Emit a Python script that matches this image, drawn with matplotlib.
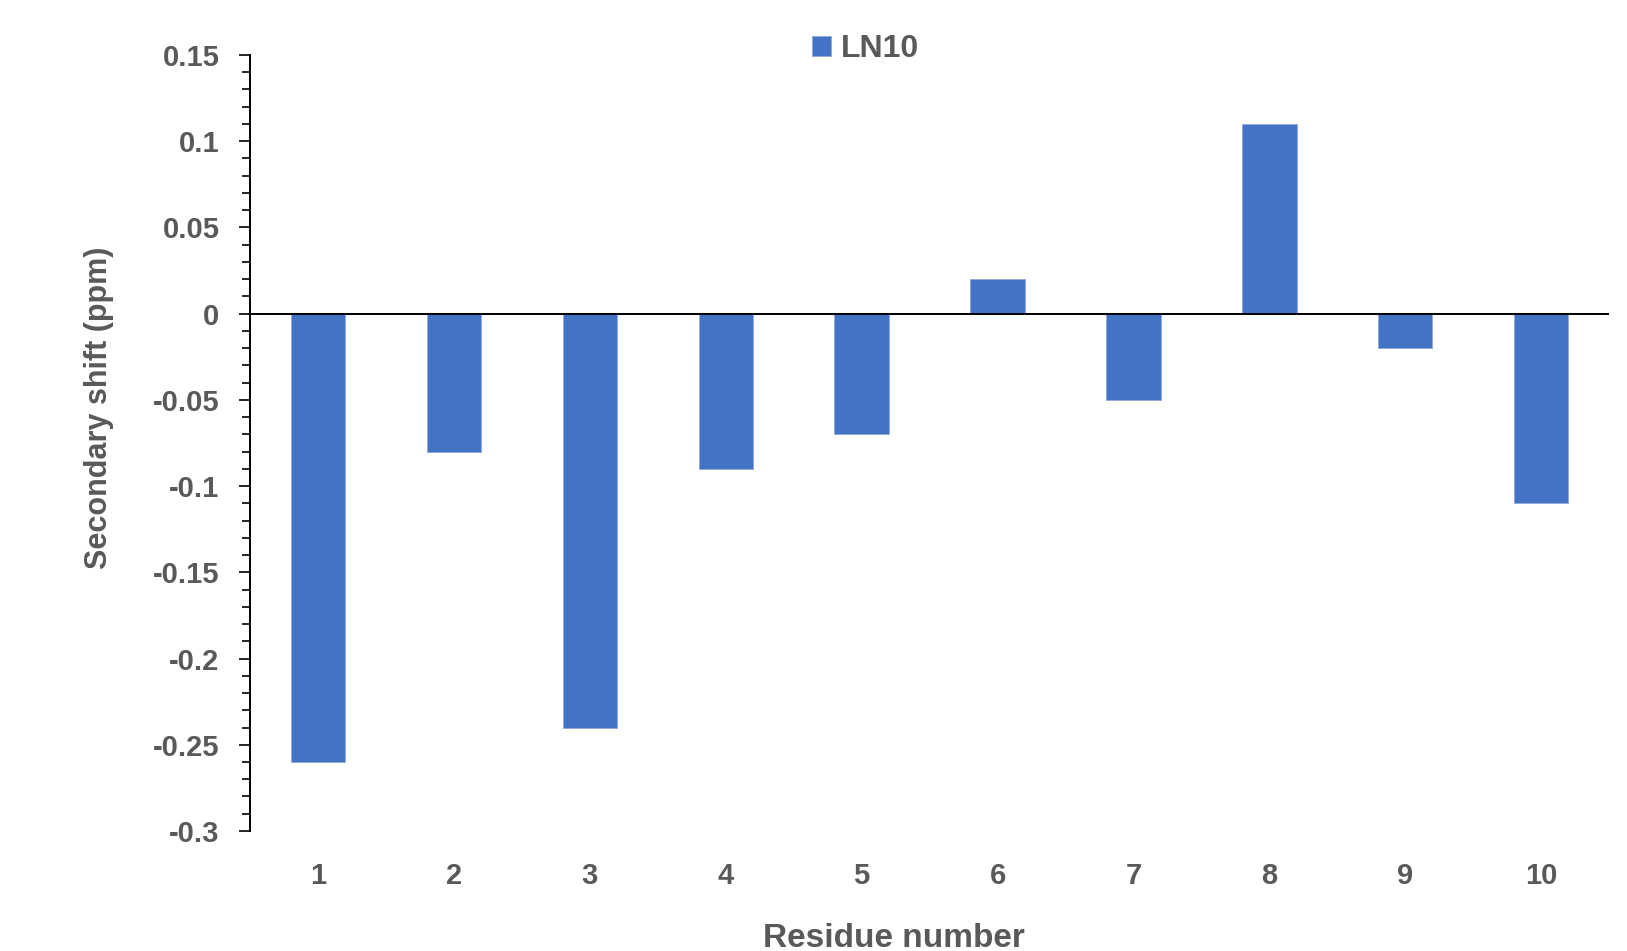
import matplotlib.pyplot as plt
from matplotlib.ticker import MultipleLocator

# secondary shift per residue
residues = [1, 2, 3, 4, 5, 6, 7, 8, 9, 10]
shifts = [-0.26, -0.08, -0.24, -0.09, -0.07, 0.02, -0.05, 0.11, -0.02, -0.11]
series_name = "LN10"

BAR_COLOR = "#4472C4"
TEXT_COLOR = "#595959"

plt.rcParams["font.family"] = ["Liberation Sans", "DejaVu Sans"]
plt.rcParams["font.weight"] = "bold"

fig = plt.figure(figsize=(16.27, 9.51), dpi=100)
ax = fig.add_axes([0.1537, 0.1262, 0.989 - 0.1537, 0.9422 - 0.1262])

ax.bar(residues, shifts, width=0.4, color=BAR_COLOR, label=series_name,
       edgecolor="#8FAADC", linewidth=0.6, zorder=2)
ax.axhline(0, color="black", linewidth=1.4, zorder=3)

ax.set_xlim(0.5, 10.5)
ax.set_ylim(-0.3, 0.15)

ax.yaxis.set_major_locator(MultipleLocator(0.05))
ax.yaxis.set_minor_locator(MultipleLocator(0.01))
ax.set_yticks([-0.3, -0.25, -0.2, -0.15, -0.1, -0.05, 0, 0.05, 0.1, 0.15])
ax.set_yticklabels(["-0.3", "-0.25", "-0.2", "-0.15", "-0.1", "-0.05",
                    "0", "0.05", "0.1", "0.15"])
ax.set_xticks(residues)
ax.set_xticklabels([str(r) for r in residues])

for side in ["top", "right", "bottom"]:
    ax.spines[side].set_visible(False)
ax.spines["left"].set_linewidth(1.4)

ax.tick_params(axis="y", which="major", length=8, width=1.2, direction="out",
               labelsize=21, labelcolor=TEXT_COLOR, pad=14)
ax.tick_params(axis="y", which="minor", length=6, width=1.2, direction="out")
ax.tick_params(axis="x", length=0, labelsize=21, labelcolor=TEXT_COLOR, pad=22)

fig.text(0.5495, 0.004, "Residue number", ha="center", va="baseline",
         fontsize=24, fontweight="bold", color=TEXT_COLOR)
fig.text(0.0606, 0.571, "Secondary shift (ppm)", ha="center", va="center",
         rotation=90, fontsize=22, fontweight="bold", color=TEXT_COLOR)

leg = ax.legend(loc="center", bbox_to_anchor=(0.532, 0.948),
                bbox_transform=fig.transFigure, frameon=False,
                fontsize=23, handlelength=0.6, handleheight=0.6,
                handletextpad=0.3)
for t in leg.get_texts():
    t.set_color(TEXT_COLOR)

fig.savefig("out.png", dpi=100)
